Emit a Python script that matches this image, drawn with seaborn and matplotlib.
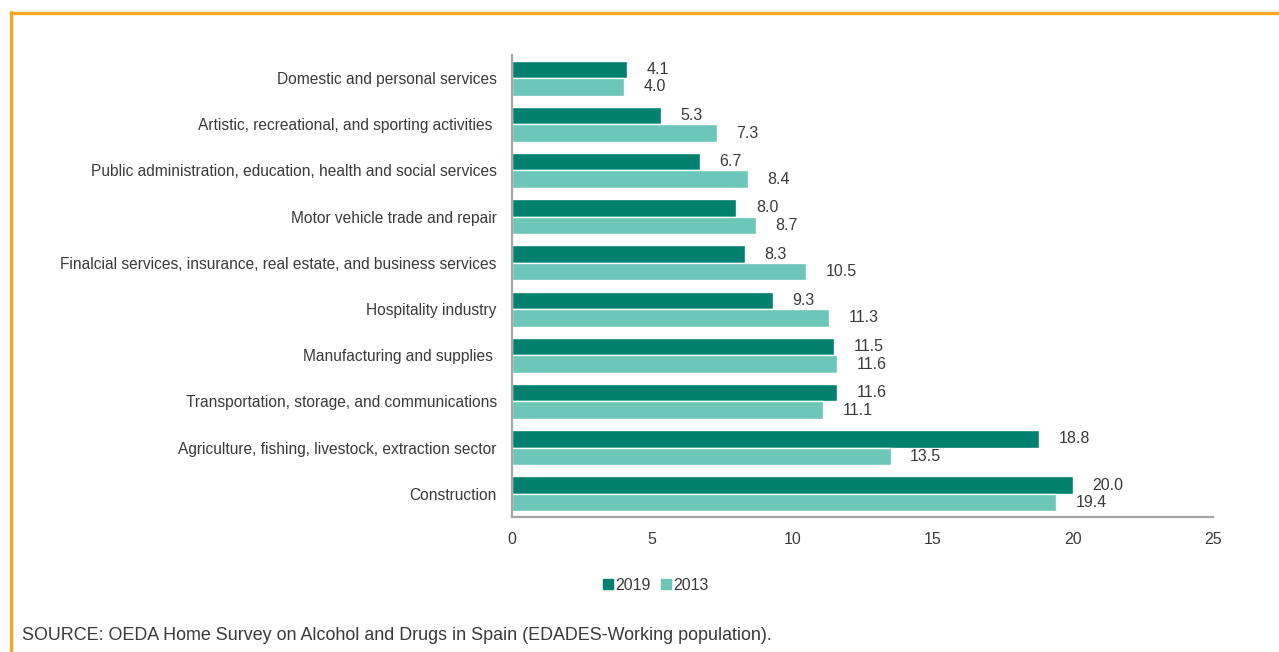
import matplotlib
matplotlib.use("Agg")
import matplotlib.pyplot as plt
from matplotlib.lines import Line2D
import seaborn as sns
import pandas as pd

# Sectors of activity (top to bottom)
sectors = [
    "Domestic and personal services",
    "Artistic, recreational, and sporting activities ",
    "Public administration, education, health and social services",
    "Motor vehicle trade and repair",
    "Finalcial services, insurance, real estate, and business services",
    "Hospitality industry",
    "Manufacturing and supplies ",
    "Transportation, storage, and communications",
    "Agriculture, fishing, livestock, extraction sector",
    "Construction",
]
values_2019 = [4.1, 5.3, 6.7, 8.0, 8.3, 9.3, 11.5, 11.6, 18.8, 20.0]
values_2013 = [4.0, 7.3, 8.4, 8.7, 10.5, 11.3, 11.6, 11.1, 13.5, 19.4]
years = ["2019", "2013"]
x_ticks = [0, 5, 10, 15, 20, 25]
source_note = "SOURCE: OEDA Home Survey on Alcohol and Drugs in Spain (EDADES-Working population)."

df = pd.DataFrame({
    "sector": sectors * 2,
    "value": values_2019 + values_2013,
    "year": [years[0]] * len(sectors) + [years[1]] * len(sectors),
})

sns.set_theme(style="white")
plt.rcParams["font.family"] = ["Liberation Sans", "DejaVu Sans"]
text_color = "#3A3A3A"
palette = {"2019": "#00806E", "2013": "#6CC7B8"}

fig = plt.figure(figsize=(12.79, 6.52), dpi=100)
ax = fig.add_axes([512 / 1279, 1 - 517 / 652, (1213 - 512) / 1279, (517 - 55) / 652])

sns.barplot(data=df, x="value", y="sector", hue="year", hue_order=years,
            palette=palette, orient="h", width=0.76, saturation=1,
            order=sectors, ax=ax, legend=False)

for container in ax.containers:
    ax.bar_label(container, fmt="%.1f", padding=14, fontsize=11.5, color=text_color)

ax.set_xlim(0, 25)
ax.set_xticks(x_ticks)
ax.set_xticklabels([str(t) for t in x_ticks])
ax.set_xlabel("")
ax.set_ylabel("")
ax.tick_params(axis="x", length=0, pad=11, labelsize=11.5, labelcolor=text_color)
ax.tick_params(axis="y", length=0, pad=11, labelsize=11.2, labelcolor=text_color)
for side in ["top", "right"]:
    ax.spines[side].set_visible(False)
for side in ["left", "bottom"]:
    ax.spines[side].set_color("#A6A6A6")
    ax.spines[side].set_linewidth(1.6)

handles = [Line2D([], [], marker="s", linestyle="none", markersize=7,
                  markerfacecolor=palette[y], markeredgecolor=palette[y]) for y in years]
fig.legend(handles, years, loc="center", bbox_to_anchor=(655 / 1279, 1 - 585 / 652),
           ncol=2, frameon=False, fontsize=11.5, handlelength=0.8, handletextpad=0.05,
           columnspacing=0.6, labelcolor=text_color)

fig.text(22 / 1279, 1 - 636 / 652, source_note, fontsize=12.9, color=text_color,
         ha="left", va="center")

# Orange frame along the top and left edges
orange = "#F7A823"
fig.add_artist(Line2D([10.5 / 1279, 1], [1 - 13 / 652, 1 - 13 / 652], color=orange,
                      linewidth=2.4, transform=fig.transFigure))
fig.add_artist(Line2D([11 / 1279, 11 / 1279], [0, 1 - 12 / 652], color=orange,
                      linewidth=2.4, transform=fig.transFigure))

fig.savefig("out.png", dpi=100, facecolor="white")
